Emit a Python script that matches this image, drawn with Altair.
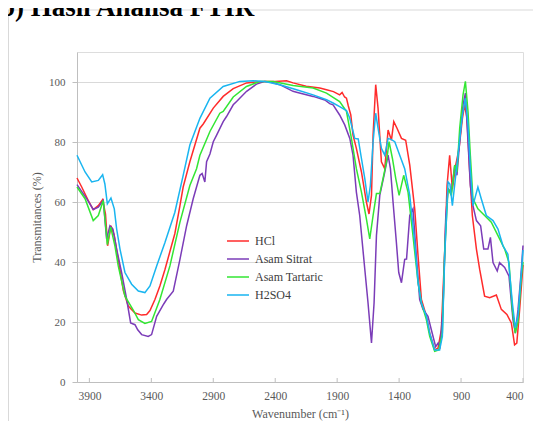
import altair as alt
import pandas as pd

series = ["HCl", "Asam Sitrat", "Asam Tartaric", "H2SO4"]
colors = ["#ff2b2b", "#7b3cb8", "#33e633", "#19b5f0"]

hcl_wn = [4000, 3962, 3909, 3869, 3828, 3793, 3770, 3753, 3726, 3700, 3672, 3626, 3586, 3532, 3478, 3438,
          3411, 3371, 3331, 3290, 3250, 3210, 3169, 3143, 3089, 3008, 2981, 2900, 2820, 2739, 2631, 2550,
          2484, 2400, 2309, 2256, 2150, 2040, 1986, 1930, 1880, 1860, 1840, 1825, 1810, 1790, 1772, 1745,
          1704, 1664, 1643, 1623, 1610, 1589, 1570, 1543, 1516, 1489, 1462, 1443, 1417, 1381, 1347, 1314,
          1274, 1247, 1220, 1180, 1153, 1113, 1086, 1059, 1032, 1013, 992, 970, 943, 916, 889, 871, 852,
          830, 809, 776, 750, 710, 669, 615, 575, 530, 494, 468, 450, 427, 400]
hcl_t = [68.0, 65.0, 60.5, 57.5, 58.8, 60.8, 56.0, 45.4, 52.1, 49.0, 42.0, 30.5, 25.3, 23.0, 22.3, 22.5,
         23.8, 27.5, 32.0, 37.5, 43.5, 49.5, 58.8, 65.0, 73.4, 84.6, 86.0, 91.3, 95.2, 97.8, 99.7, 100.0,
         100.2, 100.2, 100.4, 99.7, 98.6, 98.0, 97.4, 96.8, 95.7, 96.5, 95.0, 94.6, 92.0, 89.0, 82.3, 77.9,
         70.0, 60.0, 56.0, 62.2, 82.3, 99.1, 91.3, 73.4, 71.1, 84.0, 80.6, 86.8, 84.6, 81.2, 80.6, 72.3,
         57.7, 42.0, 27.5, 22.0, 16.3, 10.7, 11.3, 17.4, 43.2, 65.5, 75.6, 64.4, 72.3, 77.9, 87.9, 92.4, 87.9,
         70.0, 55.5, 44.3, 37.6, 28.6, 28.1, 29.0, 24.2, 22.5, 19.7, 12.4, 13.0, 24.2, 39.0]

sitrat_wn = [4000, 3922, 3869, 3828, 3788, 3761, 3734, 3710, 3680, 3640, 3599, 3567, 3532, 3510, 3478, 3425,
             3398, 3357, 3300, 3277, 3223, 3169, 3115, 3062, 3008, 2990, 2968, 2954, 2927, 2900, 2873, 2820,
             2793, 2739, 2712, 2631, 2551, 2484, 2440, 2363, 2256, 2228, 2094, 2000, 1960, 1933, 1880, 1839,
             1798, 1772, 1745, 1718, 1677, 1651, 1623, 1602, 1583, 1556, 1516, 1489, 1470, 1449, 1422, 1403,
             1381, 1355, 1340, 1314, 1288, 1261, 1234, 1207, 1167, 1140, 1105, 1085, 1070, 1046, 1024, 1005,
             978, 951, 933, 911, 884, 865, 844, 825, 804, 776, 742, 717, 683, 663, 642, 608, 589, 548, 513,
             481, 462, 440, 413, 400]
sitrat_t = [65.8, 61.1, 57.5, 58.3, 60.5, 47.7, 52.1, 51.0, 44.3, 36.5, 27.5, 19.7, 19.1, 17.4, 15.8, 15.2,
            15.8, 21.9, 26.0, 27.5, 30.3, 40.9, 52.1, 61.1, 68.9, 69.5, 66.7, 73.4, 76.0, 80.1, 82.3, 86.8,
            88.5, 92.4, 93.5, 96.9, 99.3, 100.2, 100.0, 99.1, 96.9, 96.6, 95.2, 94.0, 92.8, 92.4, 89.0, 85.7,
            81.2, 75.6, 63.3, 55.5, 37.6, 26.4, 13.0, 26.4, 48.8, 62.2, 70.0, 75.6, 71.1, 60.0, 46.5, 36.5,
            33.1, 40.9, 41.0, 55.5, 57.7, 42.0, 27.5, 24.2, 21.9, 17.4, 11.8, 13.0, 11.8, 24.2, 54.4, 64.4,
            63.3, 72.3, 68.9, 80.1, 92.4, 96.3, 80.1, 65.5, 58.8, 53.8, 52.1, 44.3, 44.3, 48.2, 39.8, 37.0, 39.8, 38.2, 35.3,
            20.8, 16.3, 24.2, 37.6, 45.5]

tartaric_wn = [4000, 3935, 3869, 3828, 3788, 3755, 3728, 3694, 3667, 3613, 3546, 3505, 3452, 3398, 3331, 3250,
               3169, 3089, 3035, 3008, 2927, 2847, 2820, 2739, 2632, 2524, 2416, 2256, 2094, 1986, 1880, 1825,
               1785, 1745, 1704, 1664, 1637, 1610, 1583, 1556, 1530, 1502, 1481, 1454, 1427, 1400, 1363, 1328,
               1288, 1247, 1220, 1180, 1153, 1113, 1080, 1051, 1032, 1005, 978, 951, 933, 911, 884, 865, 844,
               825, 804, 764, 710, 656, 602, 548, 513, 486, 462, 440, 413, 400]
tartaric_t = [65.0, 61.1, 53.8, 55.5, 60.5, 45.8, 51.6, 45.4, 38.7, 28.6, 24.0, 20.8, 19.5, 20.2, 27.5, 38.7,
              53.3, 65.5, 71.1, 75.6, 83.5, 89.6, 90.2, 95.0, 98.5, 100.2, 100.2, 98.8, 98.0, 96.3, 93.5, 90.2,
              81.2, 71.1, 63.3, 54.4, 47.7, 55.5, 62.8, 62.8, 67.8, 73.4, 80.1, 74.5, 67.8, 62.2, 68.9, 63.3,
              48.8, 33.1, 26.4, 20.8, 15.2, 10.2, 10.7, 16.3, 43.2, 64.4, 62.2, 72.3, 70.0, 84.6, 95.7, 100.2, 90.2,
              75.6, 61.1, 57.7, 55.5, 53.3, 48.8, 44.3, 39.8, 24.2, 16.3, 20.0, 35.3, 40.0]

h2so4_wn = [4000, 3935, 3881, 3828, 3793, 3775, 3755, 3726, 3699, 3680, 3653, 3613, 3559, 3505, 3452, 3411,
            3357, 3290, 3210, 3143, 3089, 3008, 2927, 2820, 2685, 2578, 2484, 2363, 2228, 2094, 1986, 1933,
            1880, 1825, 1798, 1758, 1730, 1704, 1677, 1651, 1632, 1610, 1589, 1570, 1543, 1516, 1489, 1462,
            1435, 1395, 1355, 1314, 1274, 1247, 1220, 1180, 1153, 1113, 1073, 1051, 1032, 1005, 990, 970, 943,
            916, 889, 865, 844, 825, 804, 782, 764, 737, 696, 642, 602, 562, 522, 486, 462, 440, 413, 400]
h2so4_t = [75.6, 70.0, 66.7, 67.2, 69.1, 66.0, 59.4, 61.3, 57.7, 51.0, 44.3, 36.5, 32.6, 30.3, 29.8, 32.0,
           38.7, 46.5, 56.6, 68.9, 79.0, 87.9, 94.6, 98.5, 100.2, 100.4, 100.2, 99.1, 97.4, 95.7, 94.1, 93.0,
           91.8, 90.5, 87.9, 81.2, 81.0, 74.5, 67.8, 60.0, 65.5, 80.1, 89.6, 84.6, 77.9, 75.6, 81.2, 80.8,
           80.1, 75.6, 71.1, 62.2, 46.5, 33.1, 26.4, 21.9, 16.3, 10.7, 10.7, 15.2, 42.0, 66.7, 66.0, 58.8, 68.9,
           79.0, 89.0, 94.6, 85.7, 71.1, 58.8, 62.2, 65.0, 61.1, 55.5, 53.8, 51.0, 45.4, 42.6, 26.4, 18.0, 22.0, 36.5, 44.0]

x_ticks = [3900, 3400, 2900, 2400, 1900, 1400, 900, 400]
y_ticks = [0, 20, 40, 60, 80, 100]

rows = []
for name, wn, t in [("HCl", hcl_wn, hcl_t), ("Asam Sitrat", sitrat_wn, sitrat_t),
                    ("Asam Tartaric", tartaric_wn, tartaric_t), ("H2SO4", h2so4_wn, h2so4_t)]:
    for w, v in zip(wn, t):
        rows.append({"series": name, "wn": w, "t": v})
df = pd.DataFrame(rows)

FONT = "Liberation Serif"
GREY = "#595959"

xscale = alt.Scale(domain=[400, 4000], reverse=True, nice=False, zero=False)
yscale = alt.Scale(domain=[0, 110], nice=False)

lines = alt.Chart(df).mark_line(strokeWidth=1.5).encode(
    x=alt.X("wn:Q", scale=xscale,
            axis=alt.Axis(values=x_ticks, format="d", title="Wavenumber (cm⁻¹)", grid=False, ticks=False,
                          tickSize=0, labelPadding=8, titlePadding=7, domainColor="#bfbfbf",
                          labelFont=FONT, labelFontSize=11.5, labelColor=GREY,
                          titleFont=FONT, titleFontSize=12, titleFontWeight="normal", titleColor=GREY)),
    y=alt.Y("t:Q", scale=yscale,
            axis=alt.Axis(values=y_ticks, format="d", title="Transmitances (%)", grid=True, gridColor="#d9d9d9",
                          tickColor="#bfbfbf", tickSize=5, labelPadding=7, titlePadding=5,
                          domainColor="#bfbfbf",
                          labelFont=FONT, labelFontSize=11, labelColor=GREY,
                          titleFont=FONT, titleFontSize=12, titleFontWeight="normal", titleColor=GREY)),
    color=alt.Color("series:N", sort=series, scale=alt.Scale(domain=series, range=colors),
                    legend=alt.Legend(title=None, orient="none", legendX=149, legendY=177,
                                      symbolType="stroke", symbolSize=484, symbolStrokeWidth=1.5,
                                      labelFont=FONT, labelFontSize=12, labelColor="#404040",
                                      rowPadding=-4, padding=0, labelOffset=5)),
)

tick_df = pd.DataFrame({"wn": x_ticks})
xticks = alt.Chart(tick_df).mark_rule(color="#bfbfbf", strokeWidth=1).encode(
    x=alt.X("wn:Q", scale=xscale),
    y=alt.value(330), y2=alt.value(326),
)

frame_top = alt.Chart(pd.DataFrame({"a": [0]})).mark_rule(color="#d9d9d9", strokeWidth=1).encode(
    x=alt.value(-70), x2=alt.value(470), y=alt.value(-42))
frame_left = alt.Chart(pd.DataFrame({"a": [0]})).mark_rule(color="#d9d9d9", strokeWidth=1).encode(
    x=alt.value(-68.5), y=alt.value(-42), y2=alt.value(420))

title = alt.Chart(pd.DataFrame({"t": ["b) Hasil Analisa FTIR"]})).mark_text(
    font=FONT, fontSize=27, fontWeight="bold", color="#000000", align="left", baseline="alphabetic"
).encode(text="t:N", x=alt.value(-77), y=alt.value(-36))

chart = alt.layer(frame_top, frame_left, title, xticks, lines).properties(
    width=446, height=330,
    autosize=alt.AutoSizeParams(type="none"),
    padding={"left": 69, "top": 44, "right": 10, "bottom": 50},
).configure_view(stroke="#9a80cc", strokeWidth=1).configure(background="white")

chart.save("out.html", embed_options={"renderer": "svg", "actions": False})
